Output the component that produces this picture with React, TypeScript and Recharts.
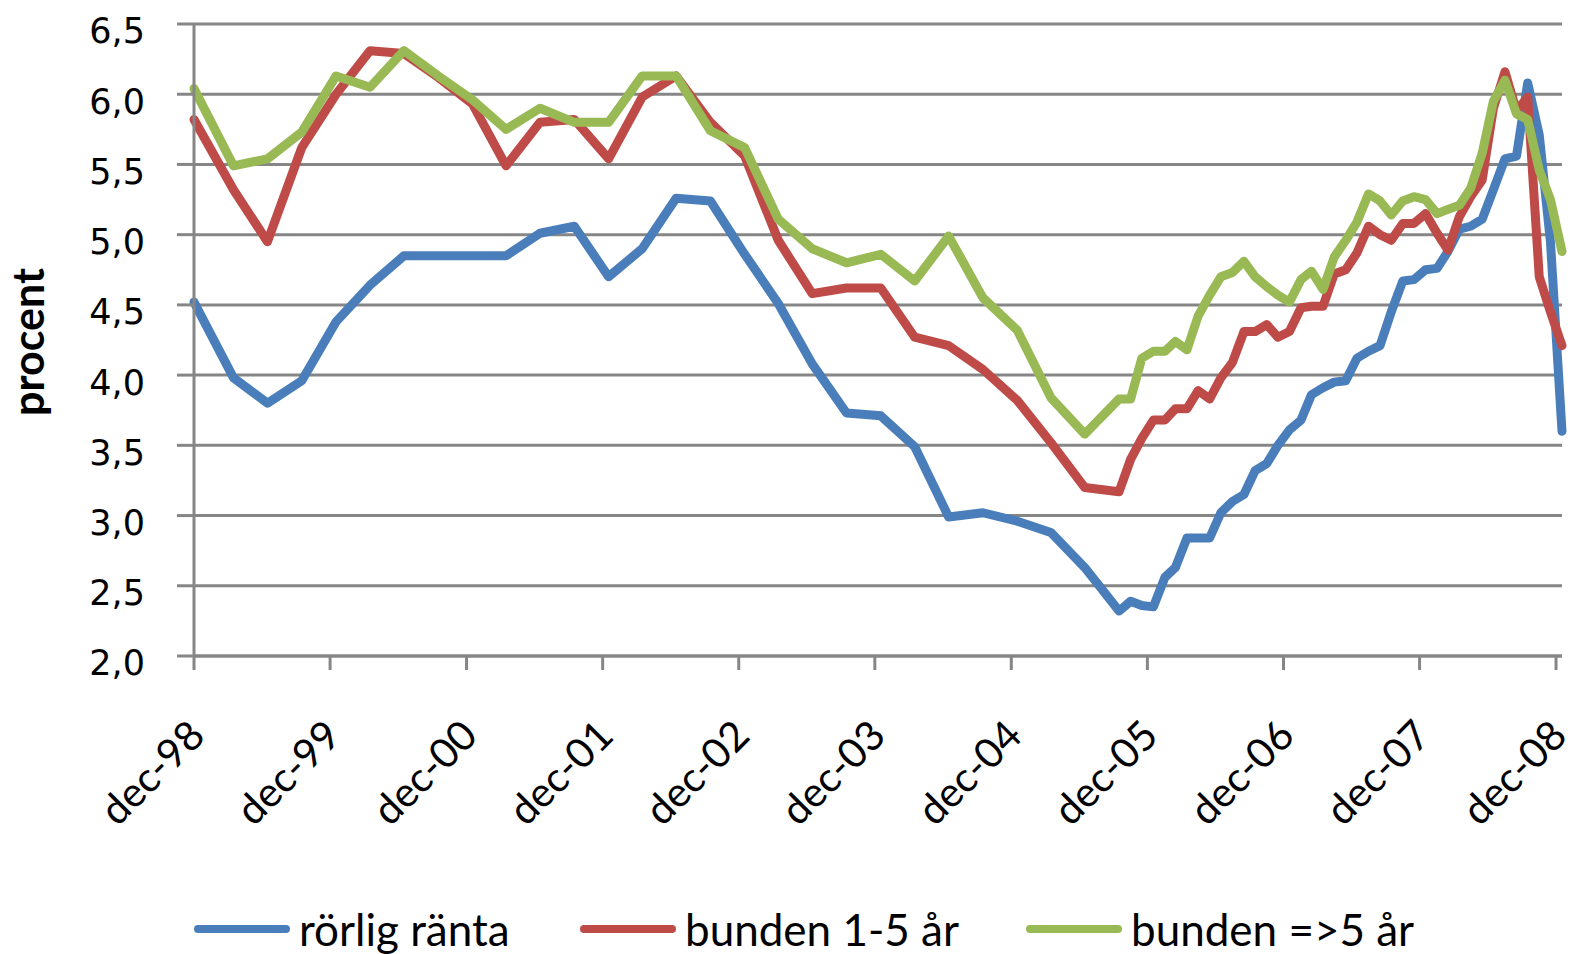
import React from 'react';
import { LineChart, Line, XAxis, YAxis, CartesianGrid, Legend } from 'recharts';

// observation dates: quarterly up to sep-05, monthly after that
const dates = [
  '1998-12-15', '1999-03-31', '1999-06-30', '1999-09-30', '1999-12-31',
  '2000-03-31', '2000-06-30', '2000-09-30', '2000-12-31',
  '2001-03-31', '2001-06-30', '2001-09-30', '2001-12-31',
  '2002-03-31', '2002-06-30', '2002-09-30', '2002-12-31',
  '2003-03-31', '2003-06-30', '2003-09-30', '2003-12-31',
  '2004-03-31', '2004-06-30', '2004-09-30', '2004-12-31',
  '2005-03-31', '2005-06-30', '2005-09-30',
  '2005-10-31', '2005-11-30', '2005-12-31',
  '2006-01-31', '2006-02-28', '2006-03-31', '2006-04-30', '2006-05-31', '2006-06-30',
  '2006-07-31', '2006-08-31', '2006-09-30', '2006-10-31', '2006-11-30', '2006-12-31',
  '2007-01-31', '2007-02-28', '2007-03-31', '2007-04-30', '2007-05-31', '2007-06-30',
  '2007-07-31', '2007-08-31', '2007-09-30', '2007-10-31', '2007-11-30', '2007-12-31',
  '2008-01-31', '2008-02-29', '2008-03-31', '2008-04-30', '2008-05-31', '2008-06-30',
  '2008-07-31', '2008-08-31', '2008-09-30', '2008-10-31', '2008-11-30', '2008-12-31',
];

const rorligRanta = [
  4.52, 3.98, 3.80, 3.96, 4.38, 4.64, 4.85, 4.85, 4.85, 4.85, 5.01, 5.06, 4.70, 4.90,
  5.26, 5.24, 4.86, 4.51, 4.08, 3.73, 3.71, 3.49, 2.99, 3.02, 2.96, 2.88, 2.63, 2.32,
  2.39, 2.36, 2.35,
  2.56, 2.63, 2.84, 2.84, 2.84, 3.02, 3.10, 3.15, 3.32, 3.37, 3.50, 3.61,
  3.68, 3.86, 3.91, 3.95, 3.96, 4.12, 4.17, 4.21, 4.45, 4.67, 4.68, 4.75,
  4.76, 4.88, 5.04, 5.06, 5.11, 5.32, 5.54, 5.56, 6.08, 5.71, 4.95, 3.60,
];

const bunden1til5 = [
  5.82, 5.32, 4.95, 5.62, 6.00, 6.31, 6.29, 6.12, 5.93, 5.49, 5.80, 5.82, 5.54, 5.98,
  6.13, 5.80, 5.56, 4.96, 4.58, 4.62, 4.62, 4.27, 4.21, 4.04, 3.82, 3.52, 3.20, 3.17,
  3.40, 3.55, 3.68,
  3.68, 3.76, 3.76, 3.89, 3.83, 3.98, 4.09, 4.31, 4.31, 4.36, 4.27, 4.31,
  4.48, 4.49, 4.49, 4.72, 4.75, 4.87, 5.06, 5.00, 4.96, 5.08, 5.08, 5.15,
  5.01, 4.89, 5.13, 5.27, 5.39, 5.90, 6.16, 5.88, 5.98, 4.70, 4.45, 4.21,
];

const bundenOver5 = [
  6.04, 5.49, 5.54, 5.73, 6.13, 6.05, 6.31, 6.13, 5.96, 5.75, 5.90, 5.80, 5.80, 6.13,
  6.13, 5.74, 5.62, 5.11, 4.90, 4.80, 4.86, 4.67, 4.99, 4.55, 4.32, 3.84, 3.58, 3.83,
  3.83, 4.12, 4.17,
  4.17, 4.24, 4.18, 4.42, 4.57, 4.70, 4.73, 4.81, 4.70, 4.63, 4.57, 4.52,
  4.68, 4.74, 4.61, 4.84, 4.96, 5.09, 5.29, 5.24, 5.14, 5.24, 5.27, 5.25,
  5.15, 5.18, 5.21, 5.33, 5.58, 5.95, 6.10, 5.86, 5.82, 5.46, 5.25, 4.88,
];

const seriesNames = ['rörlig ränta', 'bunden 1-5 år', 'bunden =>5 år'];
const xTickDates = [
  '1998-12-15', '1999-12-15', '2000-12-15', '2001-12-15', '2002-12-15', '2003-12-15',
  '2004-12-15', '2005-12-15', '2006-12-15', '2007-12-15', '2008-12-15',
];
const xTickLabels = [
  'dec-98', 'dec-99', 'dec-00', 'dec-01', 'dec-02', 'dec-03',
  'dec-04', 'dec-05', 'dec-06', 'dec-07', 'dec-08',
];
const yTicks = [2, 2.5, 3, 3.5, 4, 4.5, 5, 5.5, 6, 6.5];

const BLUE = '#4A7EBB';
const RED = '#BE4B48';
const GREEN = '#98B954';
const GRAY = '#868686';
const FONT = "Lato, 'Liberation Sans', sans-serif";

const toTime = (d: string) => Date.parse(d + 'T00:00:00Z');

const data = dates.map((d, i) => ({
  t: toTime(d),
  rorlig: rorligRanta[i],
  b15: bunden1til5[i],
  b5: bundenOver5[i],
}));
const xTicks = xTickDates.map(toTime);

const XTick = (props: any) => {
  const { x, y, payload } = props;
  const idx = xTicks.indexOf(payload.value);
  const ax = x + 13;
  const ay = y + 68;
  return (
    <text
      x={ax}
      y={ay}
      transform={`rotate(-45 ${ax} ${ay})`}
      textAnchor="end"
      fontFamily={FONT}
      fontSize={41}
      fill="#000"
    >
      {xTickLabels[idx]}
    </text>
  );
};

const YTick = (props: any) => {
  const { x, y, payload } = props;
  return (
    <text
      x={x}
      y={y + 7}
      dy="0.355em"
      textAnchor="end"
      fontFamily="'DejaVu Sans', Verdana, sans-serif"
      fontSize={35}
      fill="#000"
    >
      {Number(payload.value).toFixed(1).replace('.', ',')}
    </text>
  );
};

const renderLegend = () => {
  const colors = [BLUE, RED, GREEN];
  const lefts = [194, 580, 1026];
  return (
    <div style={{ position: 'relative', height: 70, width: '100%' }}>
      {seriesNames.map((name, i) => (
        <div
          key={name}
          style={{
            position: 'absolute',
            left: lefts[i],
            top: 0,
            height: 70,
            display: 'flex',
            alignItems: 'center',
            marginTop: 10,
          }}
        >
          <svg width={96} height={10} style={{ display: 'block' }}>
            <line x1={4} y1={5} x2={92} y2={5} stroke={colors[i]} strokeWidth={8} strokeLinecap="round" />
          </svg>
          <span
            style={{
              marginLeft: 9,
              fontFamily: FONT,
              fontSize: 44,
              color: '#000',
              lineHeight: '44px',
              whiteSpace: 'nowrap',
            }}
          >
            {name}
          </span>
        </div>
      ))}
    </div>
  );
};

export default function App() {
  return (
    <div style={{ position: 'absolute', left: 0, top: 0, background: '#fff' }}>
      <LineChart
        width={1574}
        height={954}
        data={data}
        margin={{ top: 24, right: 12, bottom: 0, left: 0 }}
      >
        <CartesianGrid vertical={false} stroke={GRAY} strokeWidth={3} />
        <XAxis
          dataKey="t"
          type="number"
          scale="linear"
          domain={[xTicks[0], data[data.length - 1].t]}
          ticks={xTicks}
          interval={0}
          height={228}
          tickSize={14}
          tickMargin={0}
          axisLine={{ stroke: GRAY, strokeWidth: 3 }}
          tickLine={{ stroke: GRAY, strokeWidth: 3 }}
          tick={<XTick />}
        />
        <YAxis
          type="number"
          domain={[2, 6.5]}
          ticks={yTicks}
          interval={0}
          width={194}
          tickSize={17}
          tickMargin={32}
          axisLine={{ stroke: GRAY, strokeWidth: 3 }}
          tickLine={{ stroke: GRAY, strokeWidth: 3 }}
          tick={<YTick />}
          label={{
            content: () => (
              <text
                x={44}
                y={342}
                transform="rotate(-90 44 342)"
                textAnchor="middle"
                fontFamily={FONT}
                fontWeight="bold"
                fontSize={43}
                fill="#000"
              >
                procent
              </text>
            ),
          }}
        />
        <Legend verticalAlign="bottom" content={renderLegend} wrapperStyle={{ height: 70 }} />
        <Line
          type="linear"
          dataKey="rorlig"
          name={seriesNames[0]}
          stroke={BLUE}
          strokeWidth={9}
          dot={false}
          strokeLinejoin="round"
          strokeLinecap="round"
          isAnimationActive={false}
        />
        <Line
          type="linear"
          dataKey="b15"
          name={seriesNames[1]}
          stroke={RED}
          strokeWidth={9}
          dot={false}
          strokeLinejoin="round"
          strokeLinecap="round"
          isAnimationActive={false}
        />
        <Line
          type="linear"
          dataKey="b5"
          name={seriesNames[2]}
          stroke={GREEN}
          strokeWidth={9}
          dot={false}
          strokeLinejoin="round"
          strokeLinecap="round"
          isAnimationActive={false}
        />
      </LineChart>
    </div>
  );
}
